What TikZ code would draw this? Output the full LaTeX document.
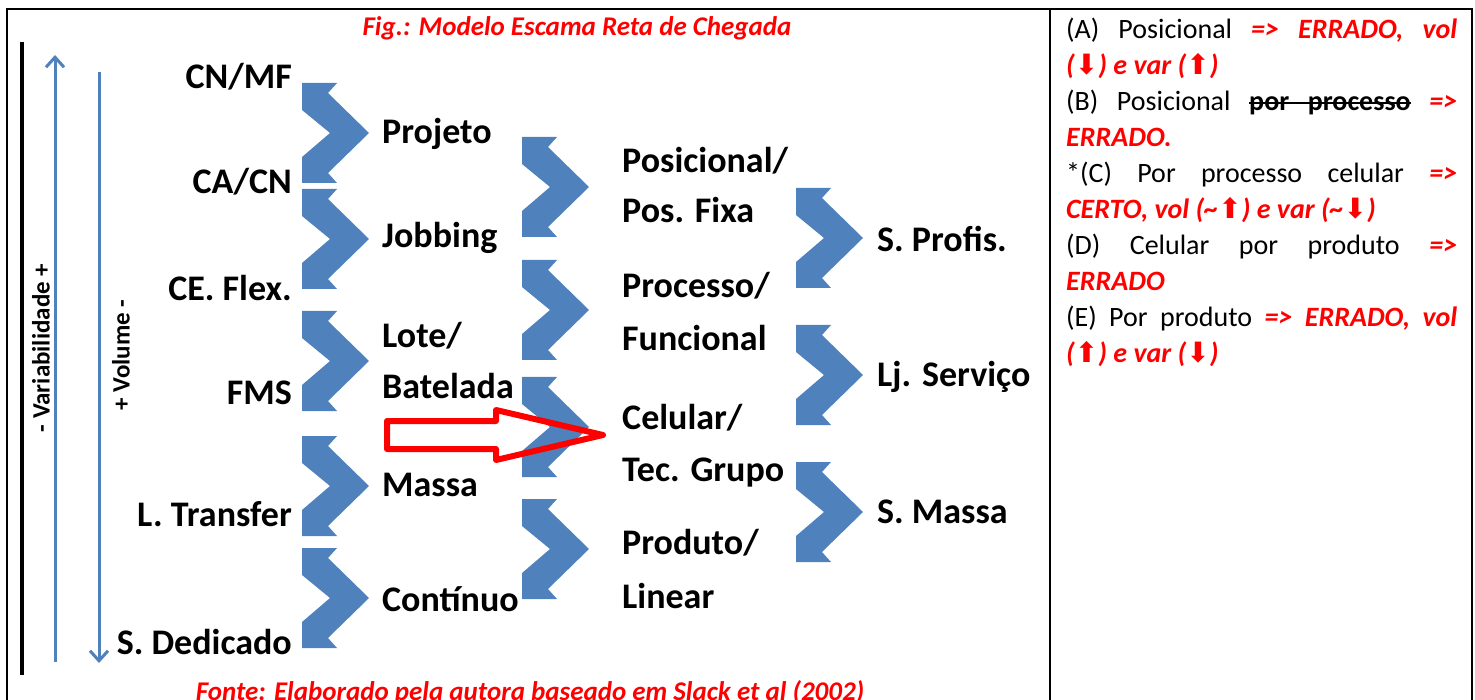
\documentclass[tikz,border=0pt]{standalone}
\usepackage{fontspec}
\setmainfont{Carlito}
\newfontfamily\symfont{DejaVu Sans}
\usetikzlibrary{arrows.meta}

\definecolor{chevblue}{HTML}{4F81BD}
\definecolor{errred}{HTML}{FF0000}
\newcommand{\err}[1]{\textcolor{errred}{\bfseries\itshape #1}}
\newcommand{\arrup}{{\symfont\mdseries\upshape\char"2B06}}
\newcommand{\arrdn}{{\symfont\mdseries\upshape\char"2B07}}
\newcommand{\strike}[1]{\leavevmode\setbox0\hbox{#1}\rlap{\vrule height 8.5pt depth -6pt width \wd0}\box0}
\newcommand{\strikegap}{\leaders\hrule height 8.5pt depth -6pt\hskip\fontdimen2\font plus \fontdimen3\font minus \fontdimen4\font}

\tikzset{
  chevron/.pic={
    \fill[chevblue] (0,0) -- (35,0) -- (26,10) -- (67,50) -- (26,90) -- (35,100)
      -- (0,100) -- (0,74) -- (28,50) -- (0,27) -- cycle;
  }
}

\begin{document}
\begin{tikzpicture}[x=1pt, y=-1pt,
    lbl/.style={font=\fontsize{36}{40}\selectfont\bfseries, inner sep=0pt, text height=27pt, text depth=5pt},
    rot/.style={font=\fontsize{25}{28}\selectfont\bfseries, rotate=90, inner sep=0pt},
    capt/.style={font=\fontsize{27}{32}\selectfont\bfseries\itshape, text=errred, inner sep=0pt},
    varrow/.style={chevblue, line width=3pt, -{Straight Barb[length=10pt,width=18pt]}},
    grid/.style={line width=2.5pt}]
  \useasboundingbox (0,0) rectangle (1475,700);
  \clip (0,0) rectangle (1475,700);
  % table
  \draw[grid] (7,730) -- (7,9) -- (1472,9) -- (1472,730);
  \draw[grid] (1050,9) -- (1050,730);
  \node[capt] (fig) at (577,28) {Fig.: Modelo Escama Reta de Chegada};
  \node[capt] (fonte) at (530,693) {Fonte: Elaborado pela autora baseado em Slack et al (2002)};
  % axes
  \draw[line width=4pt] (22,42) -- (22,675);
  \coordinate (vbot) at (55,662);
  \coordinate (vtop) at (55,55);
  \coordinate (wtop) at (99,72);
  \coordinate (wbot) at (99,663);
  \draw[varrow] (vbot) -- (vtop);
  \draw[varrow] (wtop) -- (wbot);
  \node[rot] (var) at (41,348) {- Variabilidade +};
  \node[rot] (vol) at (121,355) {+ Volume -};
  % chevrons
  \foreach \y in {83,189,311,436,548} \pic at (302,\y) {chevron};
  \foreach \y in {137,260,377,499} \pic at (522,\y) {chevron};
  \foreach \y in {188,325,462} \pic at (796,\y) {chevron};
  % column 1
  \node[lbl, anchor=east] (cnmf) at (292,78) {CN/MF};
  \node[lbl, anchor=east] (cacn) at (292,183) {CA/CN};
  \node[lbl, anchor=east] (ceflex) at (292,290) {CE. Flex.};
  \node[lbl, anchor=east] (fms) at (292,393) {FMS};
  \node[lbl, anchor=east] (ltrans) at (292,515) {L. Transfer};
  \node[lbl, anchor=east] (sded) at (292,643) {S. Dedicado};
  % column 2
  \node[lbl, anchor=west] (proj) at (382,133) {Projeto};
  \node[lbl, anchor=west] (job) at (382,237) {Jobbing};
  \node[lbl, anchor=west] (lote) at (382,337) {Lote/};
  \node[lbl, anchor=west] (bat) at (382,388) {Batelada};
  \node[lbl, anchor=west] (massa) at (382,485) {Massa};
  \node[lbl, anchor=west] (cont) at (382,600) {Contínuo};
  % column 3
  \node[lbl, anchor=west] (pos) at (622,162) {Posicional/};
  \node[lbl, anchor=west] (fixa) at (622,212) {Pos. Fixa};
  \node[lbl, anchor=west] (proc) at (622,287) {Processo/};
  \node[lbl, anchor=west] (func) at (622,340) {Funcional};
  \node[lbl, anchor=west] (cel) at (622,418) {Celular/};
  \node[lbl, anchor=west] (tec) at (622,470) {Tec. Grupo};
  \node[lbl, anchor=west] (prod) at (622,543) {Produto/};
  \node[lbl, anchor=west] (lin) at (622,597) {Linear};
  % column 4
  \node[lbl, anchor=west] (sprof) at (877,241) {S. Profis.};
  \node[lbl, anchor=west] (ljserv) at (877,376) {Lj. Serviço};
  \node[lbl, anchor=west] (smassa) at (877,512) {S. Massa};
  % red arrow
  \draw[errred, line width=6pt, line join=round] (387,421) -- (496,421) -- (496,410) -- (603,435)
    -- (496,460) -- (496,449) -- (387,449) -- cycle;
  % answers
  \node[anchor=north west, text width=391pt, inner sep=0pt, align=justify,
        font=\fontsize{28}{36}\selectfont] (ans) at (1066,12.8) {\parindent=0pt
    \strut(A) Posicional \err{=> ERRADO, vol}\linebreak
    \err{(\arrdn) e var (\arrup)}\par
    (B) Posicional {\bfseries\strike{por}\strikegap\strike{processo}} \err{=>}\linebreak
    \err{ERRADO.}\par
    *(C) Por processo celular \err{=>}\linebreak
    \err{CERTO, vol (\textasciitilde\arrup) e var (\textasciitilde\arrdn)}\par
    (D) Celular por produto \err{=>}\linebreak
    \err{ERRADO}\par
    (E) Por produto \err{=> ERRADO, vol}\linebreak
    \err{(\arrup) e var (\arrdn)}\par};
\end{tikzpicture}
\end{document}
